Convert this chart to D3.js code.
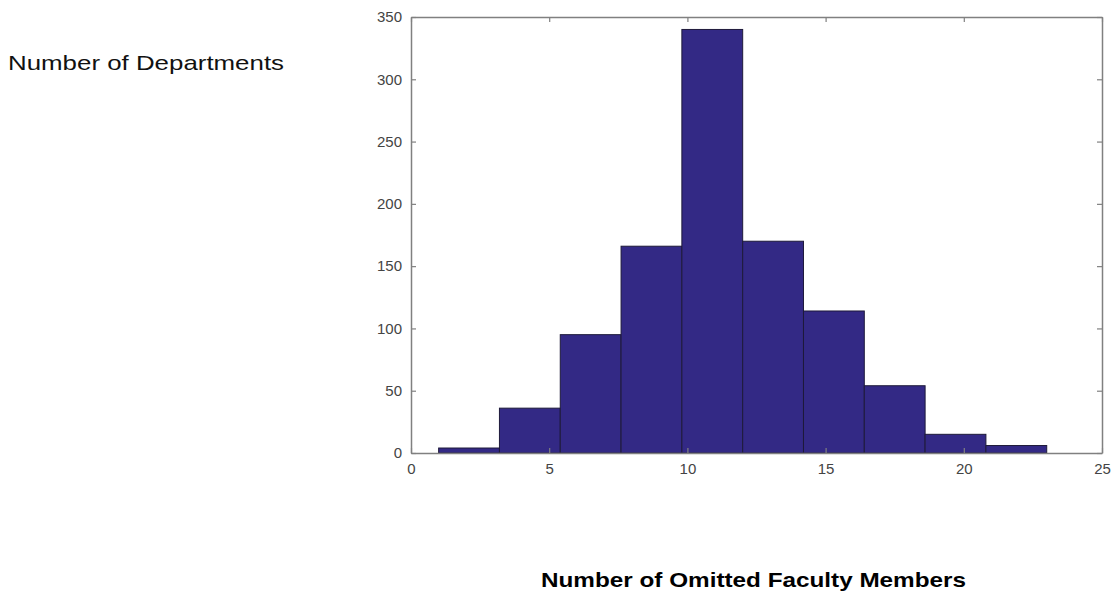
<!DOCTYPE html>
<html><head><meta charset="utf-8">
<script src="https://cdn.jsdelivr.net/npm/d3@7"></script>
<style>
html,body{margin:0;padding:0;background:#fff;}
svg{display:block;font-family:"Liberation Sans",Arial,Helvetica,sans-serif;}
</style></head>
<body><svg id="c" width="1117" height="603"></svg>
<script>
const binEdges = [1, 3.2, 5.4, 7.6, 9.8, 12, 14.2, 16.4, 18.6, 20.8, 23];
const counts = [4, 36, 95, 166, 340, 170, 114, 54, 15, 6];
const xTicks = [0, 5, 10, 15, 20, 25];
const yTicks = [0, 50, 100, 150, 200, 250, 300, 350];
const yLabel = "Number of Departments";
const xLabel = "Number of Omitted Faculty Members";

(function () {
const svg = d3.select("#c");
const L = 411, R = 1102, T = 17, B = 453;
const x = d3.scaleLinear().domain([0, 25]).range([L, R]);
const y = d3.scaleLinear().domain([0, 350]).range([B, T]);

const bins = counts.map((c, i) => ({x0: binEdges[i], x1: binEdges[i + 1], c}));
svg.append("g").selectAll("rect").data(bins).join("rect")
  .attr("x", d => x(d.x0)).attr("width", d => x(d.x1) - x(d.x0))
  .attr("y", d => y(d.c)).attr("height", d => y(0) - y(d.c))
  .attr("fill", "#332985").attr("stroke", "#1e1a3a").attr("stroke-width", 1);

const axColor = "#808080";
const tk = 5;
const gBottom = svg.append("g").attr("transform", `translate(0,${B})`)
  .call(d3.axisBottom(x).tickValues(xTicks).tickSizeInner(-tk).tickSizeOuter(0).tickPadding(10));
const gTop = svg.append("g").attr("transform", `translate(0,${T})`)
  .call(d3.axisTop(x).tickValues(xTicks).tickSizeInner(-tk).tickSizeOuter(0).tickFormat(""));
const gLeft = svg.append("g").attr("transform", `translate(${L},0)`)
  .call(d3.axisLeft(y).tickValues(yTicks).tickSizeInner(-tk).tickSizeOuter(0).tickPadding(9));
const gRight = svg.append("g").attr("transform", `translate(${R},0)`)
  .call(d3.axisRight(y).tickValues(yTicks).tickSizeInner(-tk).tickSizeOuter(0).tickFormat(""));
[gBottom, gTop, gLeft, gRight].forEach(g => {
  g.select(".domain").attr("stroke", axColor).attr("stroke-width", 1.5);
  g.selectAll(".tick line").attr("stroke", axColor).attr("stroke-width", 1.2);
  g.selectAll(".tick text").attr("fill", "#444").style("font-size", "15px")
    .style("font-family", "'Liberation Sans',Arial,sans-serif");
});

svg.append("text").attr("x", 8).attr("y", 70).text(yLabel)
  .attr("font-size", 21).attr("fill", "#111")
  .attr("textLength", 276).attr("lengthAdjust", "spacingAndGlyphs");
svg.append("text").attr("x", 541).attr("y", 587).text(xLabel)
  .attr("font-size", 21).attr("font-weight", "bold").attr("fill", "#000")
  .attr("textLength", 425).attr("lengthAdjust", "spacingAndGlyphs");
})();
</script></body></html>
